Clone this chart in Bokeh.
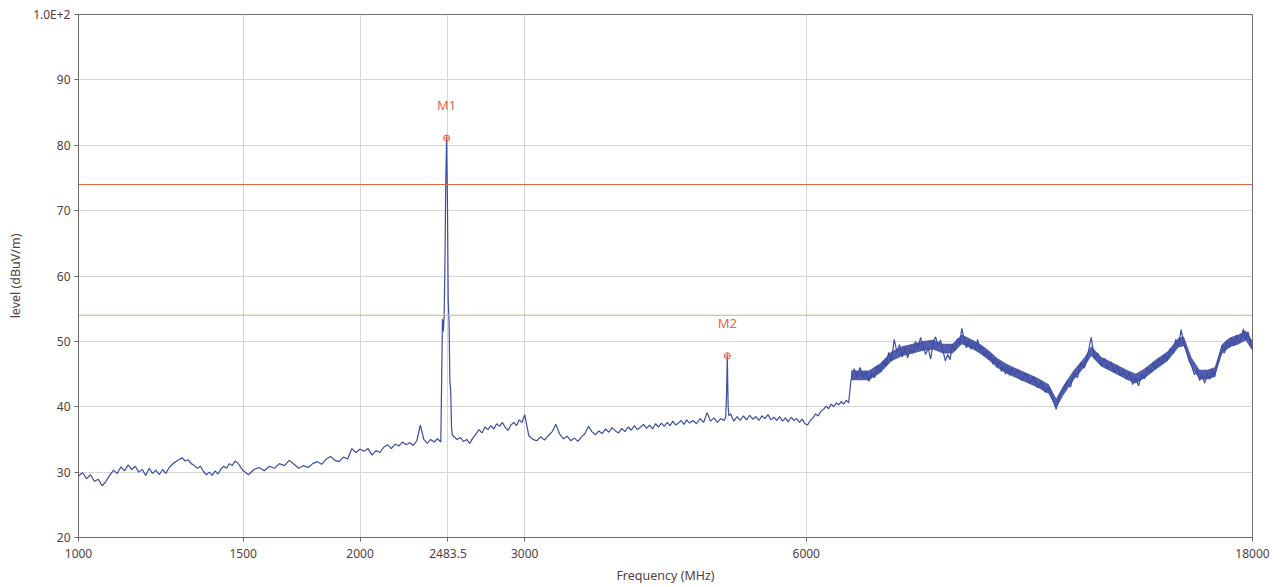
from bokeh.plotting import figure
from bokeh.models import FixedTicker, CustomJSTickFormatter, Span, Range1d
from bokeh.core.properties import value
from bokeh.embed import file_html
from bokeh.resources import INLINE

# ---------------- data ----------------
x_ticks = [1000, 1500, 2000, 2483.5, 3000, 6000, 18000]
y_ticks = [20, 30, 40, 50, 60, 70, 80, 90, 100]

limit_levels = [74, 54]
limit_colors = ["#E0623E", "#C9B27A"]

marker_freq = [2475, 4940]
marker_level = [81.1, 47.8]
marker_labels = ["M1", "M2"]

seg1_freq = [1000, 1010, 1020, 1030, 1040, 1050, 1060, 1070, 1080, 1090,
             1100, 1110, 1120, 1130, 1140, 1150, 1160, 1170, 1180, 1190,
             1200, 1210, 1220, 1230, 1240, 1250, 1260, 1270, 1280, 1290,
             1300, 1310, 1320, 1330, 1340, 1350, 1360, 1370, 1380, 1390,
             1400, 1410, 1420, 1430, 1440, 1450, 1460, 1470, 1480, 1490,
             1500]
seg1_level = [29.4, 29.9, 29.0, 29.6, 28.6, 28.9, 27.9, 28.6, 29.5, 30.3,
              29.8, 30.8, 30.2, 31.1, 30.4, 30.9, 30.0, 30.4, 29.5, 30.6,
              29.8, 30.3, 29.6, 30.4, 29.8, 30.7, 31.2, 31.6, 31.9, 32.2,
              31.7, 31.9, 31.3, 31.0, 30.6, 30.9, 30.1, 29.6, 30.0, 29.5,
              30.2, 29.7, 30.5, 30.9, 30.6, 31.3, 31.0, 31.7, 31.4, 30.8,
              30.2]

seg2_freq = [1520, 1540, 1560, 1580, 1600, 1620, 1640, 1660, 1680, 1700,
             1720, 1740, 1760, 1780, 1800, 1820, 1840, 1860, 1880, 1900,
             1920, 1940, 1960, 1980, 2000, 2020, 2040, 2060, 2080, 2100,
             2120, 2140, 2160, 2180, 2200, 2220, 2240, 2260, 2280, 2300,
             2320, 2340, 2360, 2380, 2400, 2420]
seg2_level = [29.6, 30.4, 30.7, 30.2, 30.9, 30.6, 31.3, 31.0, 31.8, 31.2,
              30.6, 31.0, 30.7, 31.3, 31.6, 31.2, 32.0, 32.4, 31.8, 31.6,
              32.3, 32.0, 33.6, 33.0, 33.5, 33.2, 33.6, 32.6, 33.3, 33.0,
              33.8, 34.2, 33.6, 34.3, 34.0, 34.6, 34.2, 34.5, 34.1, 34.8,
              37.2, 35.0, 34.4, 35.0, 34.6, 35.1]

seg3_freq = [2440, 2450, 2455, 2460, 2465, 2470, 2475, 2480, 2485, 2490,
             2495, 2500, 2505, 2510]
seg3_level = [34.6, 53.4, 51.5, 53.8, 62.0, 74.5, 81.1, 72.0, 56.0, 53.2,
              44.0, 42.5, 37.0, 35.7]

seg4_freq = [2520, 2540, 2560, 2580, 2600, 2620, 2640, 2660, 2680, 2700,
             2720, 2740, 2760, 2780, 2800, 2820, 2840, 2860, 2880, 2900,
             2920, 2940, 2960, 2980, 3000]
seg4_level = [35.4, 35.0, 35.3, 34.7, 35.0, 34.4, 35.2, 35.8, 36.5, 36.0,
              36.9, 36.5, 37.1, 36.6, 37.4, 37.0, 37.6, 36.8, 36.4, 37.2,
              37.6, 37.1, 38.0, 37.6, 38.8]

seg5_freq = [3030, 3060, 3090, 3120, 3150, 3180, 3210, 3240, 3270, 3300,
             3330, 3360, 3390, 3420, 3450, 3480, 3510, 3540, 3570, 3600,
             3630, 3660, 3690, 3720, 3750, 3780, 3810, 3840, 3870, 3900,
             3930, 3960, 3990, 4020, 4050, 4080, 4110, 4140, 4170, 4200,
             4230, 4260, 4290, 4320, 4350, 4380, 4410, 4440, 4470, 4500]
seg5_level = [35.6, 35.0, 34.8, 35.4, 34.9, 35.6, 36.2, 37.3, 35.8, 35.1,
              35.5, 34.8, 35.2, 34.7, 35.4, 35.9, 37.0, 36.2, 35.7, 36.3,
              35.9, 36.6, 36.1, 36.8, 36.3, 36.0, 36.7, 36.2, 36.9, 36.4,
              37.1, 36.5, 36.9, 37.3, 36.7, 37.2, 36.6, 37.4, 36.9, 37.5,
              37.0, 37.6, 37.1, 37.8, 37.2, 37.5, 37.9, 37.3, 38.0, 37.5]

seg6_freq = [4540, 4580, 4620, 4660, 4700, 4740, 4780, 4820, 4860, 4900,
             4920, 4930, 4940, 4950, 4960]
seg6_level = [37.9, 37.4, 38.2, 37.6, 39.1, 37.8, 38.3, 37.6, 38.2, 37.9,
              38.4, 41.5, 47.8, 40.0, 38.6]

seg7_freq = [4980, 5020, 5060, 5100, 5140, 5180, 5220, 5260, 5300, 5340,
             5380, 5420, 5460, 5500, 5540, 5580, 5620, 5660, 5700, 5740,
             5780, 5820, 5860, 5900, 5940, 5980, 6020, 6060, 6100, 6140,
             6180, 6220, 6260, 6300, 6340, 6380, 6420, 6460, 6500, 6540,
             6580, 6620, 6660]
seg7_level = [38.9, 37.8, 38.5, 37.9, 38.6, 38.0, 38.7, 38.1, 38.5, 37.9,
              38.6, 38.2, 38.8, 38.0, 38.4, 37.9, 38.5, 37.8, 38.3, 37.7,
              38.4, 37.9, 38.2, 37.6, 38.1, 37.4, 37.2, 37.9, 38.3, 38.9,
              38.6, 39.3, 39.6, 40.1, 39.7, 40.4, 40.0, 40.6, 40.3, 40.8,
              40.4, 41.0, 40.6]

seg8_freq = [6700, 6750, 6800, 6850, 6900, 6950, 7000, 7050, 7100, 7150,
             7200, 7250, 7300, 7350, 7400, 7450, 7500, 7550, 7600, 7650,
             7700, 7750, 7800, 7850, 7900, 7950, 8000, 8050, 8100, 8150,
             8200, 8250, 8300, 8350, 8400, 8450, 8500, 8550, 8600, 8650,
             8700, 8750, 8800, 8850, 8900, 8950, 9000, 9050, 9100, 9150,
             9200, 9250, 9300, 9350, 9400, 9450, 9500, 9550, 9600, 9650,
             9700, 9750, 9800, 9850, 9900, 9950, 10000]
seg8_level = [44.2, 45.8, 44.6, 46.0, 44.5, 45.4, 43.9, 45.2, 44.4, 46.3,
              45.3, 47.0, 46.2, 48.3, 47.0, 50.3, 48.4, 49.5, 47.6, 49.0,
              47.5, 48.8, 48.2, 50.0, 48.9, 50.6, 49.2, 48.0, 49.0, 47.3,
              49.8, 50.7, 49.4, 50.2, 48.6, 47.0, 48.0, 47.2, 49.6, 48.5,
              50.4, 49.6, 52.0, 50.3, 49.0, 50.2, 48.8, 50.0, 48.9, 50.3,
              48.6, 49.2, 47.8, 48.5, 47.2, 48.0, 46.5, 47.4, 46.0, 46.9,
              45.4, 46.3, 45.0, 46.1, 44.8, 45.9, 44.9]

seg9_freq = [10100, 10200, 10300, 10400, 10500, 10600, 10700, 10800, 10900, 11000,
             11100, 11200, 11300, 11400, 11500, 11600, 11700, 11800, 11900, 12000,
             12100, 12200, 12300, 12400, 12500, 12600, 12700, 12800, 12900, 13000,
             13100, 13200, 13300, 13400, 13500, 13600, 13700, 13800, 13900, 14000,
             14100, 14200, 14300, 14400, 14500, 14600, 14700, 14800, 14900, 15000,
             15100, 15200, 15300, 15400, 15500, 15600, 15700, 15800, 15900, 16000,
             16100, 16200, 16300, 16400, 16500, 16600, 16700, 16800, 16900, 17000,
             17100, 17200, 17300, 17400, 17500, 17600, 17700, 17800, 17900, 18000]
seg9_level = [45.6, 44.0, 45.1, 43.6, 44.6, 42.9, 43.8, 42.2, 43.0, 41.2,
              39.6, 41.8, 42.6, 43.9, 43.0, 45.2, 44.4, 46.8, 45.9, 48.0,
              50.6, 47.4, 48.2, 46.3, 47.4, 45.8, 46.9, 45.2, 46.3, 44.8,
              45.6, 44.2, 45.3, 43.4, 44.4, 43.2, 45.0, 44.3, 46.0, 45.2,
              46.8, 45.9, 47.4, 46.6, 48.0, 47.2, 48.9, 48.1, 50.3, 49.2,
              51.8, 49.6, 48.4, 47.0, 46.2, 44.9, 45.6, 44.0, 44.8, 43.6,
              45.1, 44.2, 45.6, 44.6, 46.3, 47.9, 49.4, 48.2, 50.1, 49.0,
              50.6, 49.3, 51.0, 49.8, 50.4, 51.9, 50.2, 51.5, 50.0, 48.9]

# core of the dense noise band above 6.7 GHz
band_freq = [6700, 7000, 7200, 7400, 7600, 7800, 8000, 8200, 8400, 8600,
             8800, 9000, 9200, 9400, 9600, 9800, 10000, 10300, 10600, 10900,
             11100, 11300, 11600, 11900, 12100, 12400, 12800, 13200, 13500, 13800,
             14200, 14600, 15000, 15200, 15500, 15800, 16100, 16400, 16700, 17000,
             17400, 17700, 18000]
band_low = [44.05, 44.05, 45.15, 46.95, 47.75, 48.15, 48.55, 48.75, 48.15, 48.15,
            49.55, 48.95, 48.15, 47.15, 45.95, 45.15, 44.55, 43.75, 42.95, 41.95,
            39.75, 41.75, 44.15, 46.05, 47.75, 46.15, 45.15, 44.15, 43.55, 44.35,
            45.75, 46.95, 49.05, 49.25, 45.95, 44.15, 44.15, 44.55, 48.05, 49.05,
            49.55, 50.15, 48.55]
band_high = [45.55, 45.55, 46.65, 48.45, 49.25, 49.65, 50.05, 50.25, 49.65, 49.65,
             51.05, 50.35, 49.65, 48.65, 47.45, 46.65, 46.05, 45.25, 44.45, 43.45,
             41.25, 43.25, 45.65, 47.55, 49.25, 47.65, 46.65, 45.65, 45.05, 45.85,
             47.25, 48.45, 50.55, 50.75, 47.45, 45.65, 45.65, 46.05, 49.55, 50.55,
             51.05, 51.65, 50.05]

freq = (seg1_freq + seg2_freq + seg3_freq + seg4_freq + seg5_freq +
        seg6_freq + seg7_freq + seg8_freq + seg9_freq)
level = (seg1_level + seg2_level + seg3_level + seg4_level + seg5_level +
         seg6_level + seg7_level + seg8_level + seg9_level)
n = min(len(freq), len(level))
freq, level = freq[:n], level[:n]

# ---------------- figure ----------------
FONT = "Noto Sans"
TXT = "#54403f"
TRACE = "#3D4DA3"

p = figure(width=1280, height=586, x_axis_type="log",
           x_range=Range1d(1000, 18000), y_range=Range1d(20, 100),
           output_backend="svg", toolbar_location=None,
           min_border_left=78, min_border_right=28,
           min_border_top=14, min_border_bottom=48)
p.background_fill_color = "white"
p.border_fill_color = "white"
p.outline_line_color = "#707070"
p.outline_line_width = 1

p.xaxis.ticker = FixedTicker(ticks=x_ticks)
p.yaxis.ticker = FixedTicker(ticks=y_ticks)
p.xaxis.formatter = CustomJSTickFormatter(code="return String(tick);")
p.yaxis.formatter = CustomJSTickFormatter(
    code="return tick >= 100 ? '1.0E+2' : String(Math.round(tick));")

for ax in (p.xaxis, p.yaxis):
    ax.axis_line_color = "#6a6a6a"
    ax.major_tick_line_color = "#6a6a6a"
    ax.major_tick_out = 4
    ax.major_tick_in = 0
    ax.minor_tick_line_color = None
    ax.major_label_text_font = FONT
    ax.major_label_text_font_size = "12px"
    ax.major_label_text_color = TXT
    ax.axis_label_text_font = FONT
    ax.axis_label_text_font_size = "12.5px"
    ax.axis_label_text_font_style = "normal"
    ax.axis_label_text_color = TXT

p.xaxis.major_label_standoff = 7
p.xaxis.axis_label = "Frequency (MHz)"
p.xaxis.axis_label_standoff = 6
p.yaxis.major_label_standoff = 4
p.yaxis.axis_label = "level (dBuV/m)"
p.yaxis.axis_label_standoff = 6

p.xgrid.grid_line_color = "#d6d6d6"
p.ygrid.grid_line_color = "#d6d6d6"
p.xgrid.grid_line_width = 1
p.ygrid.grid_line_width = 1

for lv, col in zip(limit_levels, limit_colors):
    p.add_layout(Span(location=lv, dimension="width", line_color=col, line_width=1))

p.varea(x=band_freq, y1=band_low, y2=band_high, fill_color=TRACE, fill_alpha=0.9)
p.line(freq, level, line_color=TRACE, line_width=1.2)

p.scatter(marker_freq, marker_level, marker="circle_cross", size=6,
          line_color="#E0604A", fill_color=None, line_width=1)
p.text(x=marker_freq, y=marker_level, text=marker_labels,
       text_align="center", text_baseline="middle", y_offset=-33,
       text_color="#E0684E", text_font_size="13px", text_font=value(FONT))

open("out.html", "w").write(file_html(p, INLINE))
